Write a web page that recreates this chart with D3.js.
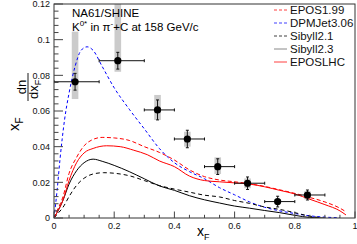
<!DOCTYPE html>
<html>
<head>
<meta charset="utf-8">
<script src="https://cdn.jsdelivr.net/npm/d3@7"></script>
<style>
  body { margin: 0; background: #fff; }
  svg { display: block; font-family: "Liberation Sans", Arial, Helvetica, sans-serif; }
</style>
</head>
<body>
<svg id="chart"></svg>
<script>
// NA61/SHINE data points (xF bins)
const ptX = [0.07, 0.212, 0.344, 0.443, 0.544, 0.643, 0.743, 0.842];
const ptY = [0.0764, 0.0882, 0.0606, 0.0443, 0.0288, 0.0195, 0.0092, 0.0129];
const binLo = [0, 0.15, 0.3, 0.4, 0.5, 0.6, 0.7, 0.8];
const binHi = [0.15, 0.3, 0.4, 0.5, 0.6, 0.7, 0.8, 0.9];
const statErr = [0.0047, 0.0047, 0.0056, 0.0049, 0.0044, 0.0035, 0.003, 0.0028];
const systLo = [0.0667, 0.082, 0.055, 0.040, 0.0247, 0.0167, 0.0078, 0.0105];
const systHi = [0.1045, 0.125, 0.069, 0.0484, 0.034, 0.0222, 0.0106, 0.015];

// model curves [xF, value]
const epos199 = [[0,0],[0.01,0.004],[0.03,0.012],[0.05,0.025],[0.075,0.034],[0.1,0.0405],[0.125,0.0437],[0.16,0.0452],[0.2,0.0449],[0.25,0.0435],[0.3,0.040],[0.35,0.0368],[0.4,0.0325],[0.45,0.027],[0.5,0.0232],[0.55,0.0213],[0.6,0.0203],[0.65,0.0192],[0.7,0.0177],[0.75,0.0158],[0.8,0.0138],[0.85,0.0115],[0.9,0.009],[0.95,0.0055],[0.97,0.0035]];
const dpmjet306 = [[0,0],[0.01,0.015],[0.02,0.033],[0.035,0.055],[0.05,0.07],[0.07,0.085],[0.09,0.094],[0.11,0.096],[0.13,0.094],[0.16,0.085],[0.2,0.073],[0.25,0.061],[0.3,0.05],[0.35,0.039],[0.4,0.031],[0.45,0.026],[0.5,0.022],[0.55,0.017],[0.6,0.013],[0.65,0.009],[0.7,0.006],[0.75,0.004],[0.8,0.0025],[0.85,0.0012],[0.9,0.0005],[0.95,0.0001]];
const sibyll21 = [[0,0],[0.01,0.002],[0.03,0.006],[0.05,0.012],[0.075,0.0183],[0.1,0.0223],[0.13,0.0247],[0.165,0.0254],[0.2,0.0251],[0.25,0.0237],[0.3,0.021],[0.35,0.0182],[0.4,0.0162],[0.45,0.0145],[0.5,0.0128],[0.55,0.0118],[0.6,0.0098],[0.65,0.0082],[0.7,0.0062],[0.75,0.0048],[0.8,0.003],[0.85,0.001],[0.88,0.0003]];
const sibyll23 = [[0,0],[0.01,0.003],[0.03,0.010],[0.05,0.019],[0.075,0.0265],[0.1,0.031],[0.13,0.033],[0.16,0.0318],[0.2,0.0295],[0.25,0.026],[0.3,0.022],[0.35,0.018],[0.4,0.0155],[0.45,0.0125],[0.5,0.0102],[0.55,0.0084],[0.6,0.0067],[0.65,0.0055],[0.7,0.0042],[0.75,0.003],[0.8,0.0015],[0.85,0.0003],[0.9,0]];
const eposlhc = [[0,0],[0.01,0.003],[0.03,0.010],[0.05,0.021],[0.075,0.031],[0.1,0.0365],[0.13,0.039],[0.175,0.0405],[0.22,0.040],[0.265,0.038],[0.31,0.0355],[0.35,0.032],[0.4,0.0288],[0.45,0.0235],[0.5,0.021],[0.55,0.0203],[0.6,0.0197],[0.65,0.019],[0.7,0.0175],[0.75,0.0155],[0.8,0.0135],[0.85,0.0105],[0.9,0.0075],[0.95,0.004],[0.97,0.0017]];

const modelNames = ["EPOS1.99", "DPMJet3.06", "Sibyll2.1", "Sibyll2.3", "EPOSLHC"];
const modelData = [epos199, dpmjet306, sibyll21, sibyll23, eposlhc];
const modelColor = ["#ff0000", "#0000ff", "#000000", "#000000", "#ff0000"];
const modelDash = ["4,2.5", "3,2.5", "4,3", null, null];

const xTicks = [0, 0.2, 0.4, 0.6, 0.8, 1];
const yTicks = [0, 0.02, 0.04, 0.06, 0.08, 0.1, 0.12];

const W = 357, H = 244;
const frame = {left: 54, right: 355, top: 4, bottom: 218};

const svg = d3.select("#chart").attr("width", W).attr("height", H);

const x = d3.scaleLinear([0, 1], [frame.left, frame.right]);
const y = d3.scaleLinear([0, 0.12], [frame.bottom, frame.top]);

svg.append("clipPath").attr("id", "clip")
  .append("rect")
  .attr("x", frame.left).attr("y", frame.top)
  .attr("width", frame.right - frame.left).attr("height", frame.bottom - frame.top);

const plot = svg.append("g").attr("clip-path", "url(#clip)");

// systematic boxes
plot.selectAll("rect.syst")
  .data(ptX)
  .join("rect")
  .attr("class", "syst")
  .attr("x", d => x(d) - 3.3)
  .attr("width", 6.6)
  .attr("y", (d, i) => y(systHi[i]))
  .attr("height", (d, i) => y(systLo[i]) - y(systHi[i]))
  .attr("fill", "#cbcbcb");

// model curves
const line = d3.line()
  .x(d => x(d[0]))
  .y(d => y(d[1]))
  .curve(d3.curveMonotoneX);

plot.selectAll("path.model")
  .data(modelData)
  .join("path")
  .attr("class", "model")
  .attr("d", line)
  .attr("fill", "none")
  .attr("stroke", (d, i) => modelColor[i])
  .attr("stroke-width", 1)
  .attr("stroke-dasharray", (d, i) => modelDash[i]);

// data points with errors
const pts = plot.selectAll("g.pt")
  .data(ptX)
  .join("g")
  .attr("class", "pt");

pts.each(function(d, i) {
  const g = d3.select(this);
  const cy = y(ptY[i]);
  const cx = x(d);
  // bin bar + caps
  g.append("line").attr("x1", x(binLo[i])).attr("x2", x(binHi[i]))
    .attr("y1", cy).attr("y2", cy).attr("stroke", "#111");
  [binLo[i], binHi[i]].forEach(b => {
    g.append("line").attr("x1", x(b)).attr("x2", x(b))
      .attr("y1", cy - 1.5).attr("y2", cy + 1.5).attr("stroke", "#111");
  });
  // stat error + caps
  const y1 = y(ptY[i] + statErr[i]), y2 = y(ptY[i] - statErr[i]);
  g.append("line").attr("x1", cx).attr("x2", cx).attr("y1", y1).attr("y2", y2).attr("stroke", "#111");
  [y1, y2].forEach(yy => {
    g.append("line").attr("x1", cx - 1.5).attr("x2", cx + 1.5)
      .attr("y1", yy).attr("y2", yy).attr("stroke", "#111");
  });
  g.append("circle").attr("cx", cx).attr("cy", cy).attr("r", 3.6).attr("fill", "#000");
});

// frame
svg.append("rect")
  .attr("x", frame.left).attr("y", frame.top)
  .attr("width", frame.right - frame.left).attr("height", frame.bottom - frame.top)
  .attr("fill", "none").attr("stroke", "#333").attr("stroke-width", 1);

// y axis ticks (inside)
const yMinor = d3.range(0, 0.1201, 0.004);
svg.append("g").selectAll("line")
  .data(yMinor)
  .join("line")
  .attr("x1", frame.left)
  .attr("x2", d => frame.left + (Math.abs(d / 0.02 - Math.round(d / 0.02)) < 1e-6 ? 9 : 4.5))
  .attr("y1", d => y(d)).attr("y2", d => y(d))
  .attr("stroke", "#444");

svg.append("g").selectAll("text")
  .data(yTicks)
  .join("text")
  .attr("x", frame.left - 4)
  .attr("y", d => y(d) + 3.2)
  .attr("text-anchor", "end")
  .attr("font-size", 9)
  .attr("fill", "#111")
  .text(d => d3.format("~g")(d));

// x axis ticks (inside)
const xMinor = d3.range(0, 1.0001, 0.05);
svg.append("g").selectAll("line")
  .data(xMinor)
  .join("line")
  .attr("x1", d => x(d)).attr("x2", d => x(d))
  .attr("y1", frame.bottom)
  .attr("y2", d => frame.bottom - (Math.abs(d / 0.2 - Math.round(d / 0.2)) < 1e-6 ? 6.5 : 3.2))
  .attr("stroke", "#444");

svg.append("g").selectAll("text")
  .data(xTicks)
  .join("text")
  .attr("x", d => x(d))
  .attr("y", frame.bottom + 11)
  .attr("text-anchor", "middle")
  .attr("font-size", 9)
  .attr("fill", "#111")
  .text(d => d3.format("~g")(d));

// x axis title
const xt = svg.append("text").attr("x", 197).attr("y", 236).attr("font-size", 14);
xt.append("tspan").text("x");
xt.append("tspan").attr("font-size", 9).attr("dy", 4).text("F");

// y axis title, rotated
const yt = svg.append("g").attr("transform", "rotate(-90)");
const yx = yt.append("text").attr("x", -131).attr("y", 18.5).attr("font-size", 15);
yx.append("tspan").text("x");
yx.append("tspan").attr("font-size", 10).attr("dy", 4).text("F");
yt.append("text").attr("x", -87).attr("y", 25.5).attr("font-size", 13)
  .attr("text-anchor", "middle").text("dn");
yt.append("line").attr("x1", -101).attr("x2", -73).attr("y1", 28).attr("y2", 28)
  .attr("stroke", "#000").attr("stroke-width", 0.9);
const yd = yt.append("text").attr("x", -99).attr("y", 38).attr("font-size", 13);
yd.append("tspan").text("dx");
yd.append("tspan").attr("font-size", 9).attr("dy", 3).text("F");

// title text
svg.append("text").attr("x", 72).attr("y", 17).attr("font-size", 11.5).text("NA61/SHINE");
const t2 = svg.append("text").attr("x", 72).attr("y", 31).attr("font-size", 11.5);
t2.append("tspan").text("K");
t2.append("tspan").attr("font-size", 8).attr("dy", -5).text("0*");
t2.append("tspan").attr("dy", 5).text(" in π");
t2.append("tspan").attr("font-size", 8).attr("dy", -5).text("-");
t2.append("tspan").attr("dy", 5).text("+C at 158 GeV/c");

// legend
const leg = svg.append("g").selectAll("g")
  .data(modelNames)
  .join("g")
  .attr("transform", (d, i) => `translate(274,${10 + i * 13})`);
leg.append("line")
  .attr("x1", 0).attr("x2", 13).attr("y1", 0).attr("y2", 0)
  .attr("stroke", (d, i) => i === 3 ? "#888" : modelColor[i])
  .attr("stroke-opacity", (d, i) => i === 3 ? 1 : 0.75)
  .attr("stroke-dasharray", (d, i) => modelDash[i] ? "3,2" : null);
leg.append("text")
  .attr("x", 16).attr("y", 4)
  .attr("font-size", 11.5)
  .attr("fill", "#111")
  .text(d => d);
</script>
</body>
</html>
